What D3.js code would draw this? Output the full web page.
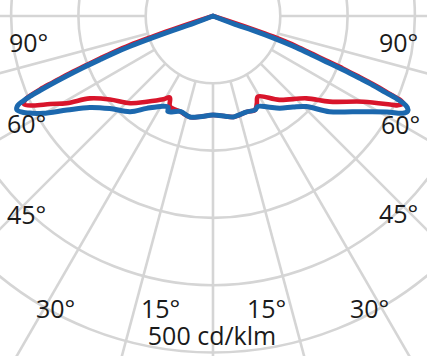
<!DOCTYPE html>
<html>
<head>
<meta charset="utf-8">
<script src="https://cdn.jsdelivr.net/npm/d3@7"></script>
<style>
  html, body { margin: 0; padding: 0; background: #ffffff; }
  svg { display: block; }
  text { font-family: "Open Sans", "Noto Sans", sans-serif; fill: #1a1a1a; }
</style>
</head>
<body>
<svg id="chart" width="427" height="356"></svg>
<script>
// ---- data (angle in degrees from nadir, negative = left; intensity in cd/klm) ----
const ringValues = [100, 200, 300, 400, 500];
const spokeAngles = [-90, -75, -60, -45, -30, -15, 0, 15, 30, 45, 60, 75, 90];
const tickLabels = ["90°", "60°", "45°", "30°", "15°"];
const unitLabel = "500 cd/klm";

const blueAngles = [-90, -69.2, -70.2, -70.2, -69.9, -69.4, -68.9, -68.3, -67.7, -67.2, -66.7, -66.3, -65.9, -65.4, -64.5, -63.0, -62.1, -60.2, -57.2, -53.4, -48.1, -40.9, -35.7, -28.9, -26.2, -25.2, -19.0, -12.9, -7.4, 0, 7, 11.4, 19.4, 24.1, 26.4, 31.1, 35.9, 41.3, 45.8, 50.6, 55.6, 61.1, 62.9, 64.0, 64.8, 65.4, 65.8, 66.1, 66.6, 67.0, 67.5, 68.0, 68.5, 69.3, 70.0, 70.2, 69.2, 90];
const blueValues = [0, 32, 63, 95, 131, 159, 180, 208, 235, 258, 280, 297, 309, 319, 323, 316, 308, 291, 258, 228, 206, 188, 169, 153, 151, 157, 150, 154, 151, 147, 150, 153, 151, 153, 150, 158, 169, 180, 193, 224, 252, 295, 317, 322, 319, 311, 298, 281, 259, 236, 209, 181, 160, 132, 95, 63, 32, 0];

const redAngles = [-90, -72.3, -71.7, -71.2, -70.7, -70.0, -69.4, -68.7, -68.1, -67.5, -67.0, -66.5, -66.1, -65.0, -63.6, -61.6, -59.2, -56.2, -51.0, -43.6, -37.7, -30.8, -27.9, -25.4, -19.0, -12.9, -7.4, 0, 7, 11.4, 19.4, 24.1, 26.7, 29.1, 38.4, 48.6, 53.7, 60.3, 63.7, 64.2, 65.3, 65.8, 66.0, 66.4, 66.9, 67.4, 68.0, 68.5, 69.1, 70.1, 71.1, 71.7, 72.3, 90];
const redValues = [0, 31, 63, 94, 131, 158, 179, 207, 234, 257, 279, 295, 304, 310, 299, 275, 253, 220, 197, 179, 161, 144, 137, 149, 150, 154, 151, 147, 150, 153, 151, 153, 145, 137, 159, 185, 215, 257, 298, 305, 311, 306, 296, 280, 258, 235, 208, 180, 159, 131, 94, 63, 31, 0];

// ---- layout ----
const cx = 213, cy = 16;
const svg = d3.select("#chart");
const g = svg.append("g").attr("transform", `translate(${cx},${cy})`);

const r = d3.scaleLinear().domain([0, 500]).range([0, 336.5]);
const toRad = d => (180 - d) * Math.PI / 180; // 0° = straight down

const gridColor = "#d5d5d5";

// rings
g.selectAll("circle.ring")
  .data(ringValues)
  .join("circle")
  .attr("class", "ring")
  .attr("r", d => r(d))
  .attr("fill", "none")
  .attr("stroke", gridColor)
  .attr("stroke-width", 2.6);

// spokes (start at first ring)
g.selectAll("line.spoke")
  .data(spokeAngles)
  .join("line")
  .attr("class", "spoke")
  .attr("x1", d => r(ringValues[0]) * Math.sin(toRad(d)))
  .attr("y1", d => -r(ringValues[0]) * Math.cos(toRad(d)))
  .attr("x2", d => r(1000) * Math.sin(toRad(d)))
  .attr("y2", d => -r(1000) * Math.cos(toRad(d)))
  .attr("stroke", gridColor)
  .attr("stroke-width", 2.6);

// curves
const radial = d3.lineRadial()
  .angle(d => toRad(d[0]))
  .radius(d => r(d[1]))
  .curve(d3.curveCatmullRom.alpha(0.5));

const redData = d3.zip(redAngles, redValues);
const blueData = d3.zip(blueAngles, blueValues);

g.append("path")
  .attr("d", radial(redData))
  .attr("fill", "none")
  .attr("stroke", "#d8152b")
  .attr("stroke-width", 4.6)
  .attr("stroke-linejoin", "round")
  .attr("stroke-linecap", "round");

g.append("path")
  .attr("d", radial(blueData))
  .attr("fill", "none")
  .attr("stroke", "#1c68ae")
  .attr("stroke-width", 5)
  .attr("stroke-linejoin", "round")
  .attr("stroke-linecap", "round");

// labels
const leftPos = [[9, 52], [7, 133], [7, 224], [36, 318], [141, 318]];
const rightPos = [[379, 52], [381, 134], [379, 223], [350, 318], [247, 318]];
const fs = 25;
tickLabels.forEach((t, i) => {
  svg.append("text").attr("x", leftPos[i][0]).attr("y", leftPos[i][1])
    .attr("font-size", fs).text(t);
  svg.append("text").attr("x", rightPos[i][0]).attr("y", rightPos[i][1])
    .attr("font-size", fs).text(t);
});
svg.append("text")
  .attr("x", 212).attr("y", 345)
  .attr("text-anchor", "middle")
  .attr("font-size", fs)
  .text(unitLabel);
</script>
</body>
</html>
